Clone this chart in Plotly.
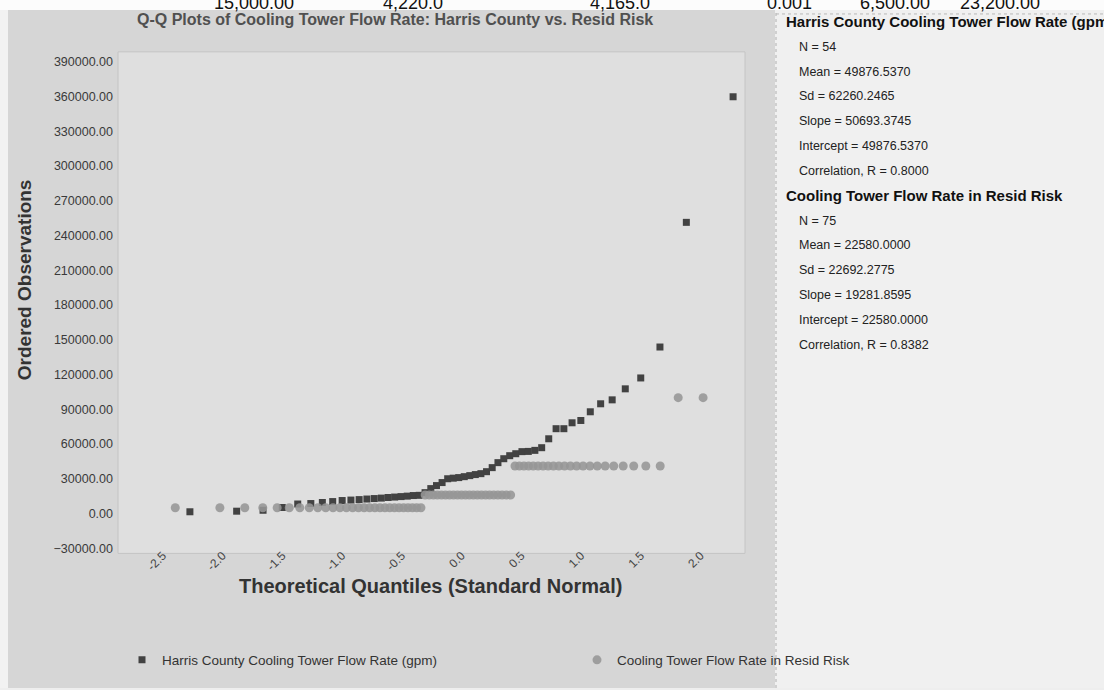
import plotly.graph_objects as go
from statistics import NormalDist

W, H = 1104, 690

# ---------------- data ----------------
harris_flow = [1500, 2000, 2800, 5200, 8200, 8600, 9500, 10300, 11200, 11600,
               12000, 12500, 12900, 13300, 13800, 14200, 14600, 15000, 15500, 15700,
               18000, 21500, 24100, 26700, 30000, 30500, 31000, 31800, 32700, 33600,
               34400, 36100, 39600, 43900, 47300, 49900, 51600, 53400, 53600, 54500,
               56800, 64500, 73200, 73200, 78300, 80300, 87800, 94700, 98100, 107600,
               117000, 143700, 251300, 359700]

resid_flow = [5000, 5000, 5000, 5000, 5000, 5000, 5000, 5000, 5000, 5000,
              5000, 5000, 5000, 5000, 5000, 5000, 5000, 5000, 5000, 5000,
              5000, 5000, 5000, 5000, 5000, 5000, 5000, 5000,
              16000, 16000, 16000, 16000, 16000, 16000, 16000, 16000, 16000, 16000,
              16000, 16000, 16000, 16000, 16000, 16000, 16000, 16000, 16000, 16000,
              16000, 16000,
              41000, 41000, 41000, 41000, 41000, 41000, 41000, 41000, 41000, 41000,
              41000, 41000, 41000, 41000, 41000, 41000, 41000, 41000, 41000, 41000,
              41000, 41000,
              100000, 100000, 100000]

x_ticks = [-2.5, -2.0, -1.5, -1.0, -0.5, 0.0, 0.5, 1.0, 1.5, 2.0]
x_tick_labels = ["-2.5", "-2.0", "-1.5", "-1.0", "-0.5", "0.0", "0.5", "1.0", "1.5", "2.0"]
y_ticks = [-30000, 0, 30000, 60000, 90000, 120000, 150000, 180000, 210000,
           240000, 270000, 300000, 330000, 360000, 390000]

series_names = ["Harris County Cooling Tower Flow Rate (gpm)",
                "Cooling Tower Flow Rate in Resid Risk"]

stats_harris = ["N = 54", "Mean = 49876.5370", "Sd = 62260.2465",
                "Slope = 50693.3745", "Intercept = 49876.5370", "Correlation, R = 0.8000"]
stats_resid = ["N = 75", "Mean = 22580.0000", "Sd = 22692.2775",
               "Slope = 19281.8595", "Intercept = 22580.0000", "Correlation, R = 0.8382"]

top_row_text = ["15,000.00", "4,220.0", "4,165.0", "0.001", "6,500.00", "23,200.00"]


def theoretical_quantiles(n):
    nd = NormalDist()
    return [nd.inv_cdf((i - 0.375) / (n + 0.25)) for i in range(1, n + 1)]


def px(x):
    return x / W


def py(y):
    return 1 - y / H


# plot area in pixels
PL, PR, PT, PB = 118, 745, 52, 555
TOP = 10  # top of the chart panels

fig = go.Figure()
fig.add_trace(go.Scatter(
    x=theoretical_quantiles(len(harris_flow)), y=harris_flow, mode="markers",
    name=series_names[0], cliponaxis=False, legend="legend",
    marker=dict(symbol="square", size=7, color="#424242", line=dict(width=0))))
fig.add_trace(go.Scatter(
    x=theoretical_quantiles(len(resid_flow)), y=resid_flow, mode="markers",
    name=series_names[1], cliponaxis=False, legend="legend2",
    marker=dict(symbol="circle", size=9, color="rgba(150,150,150,0.88)", line=dict(width=0))))

shapes = [
    dict(type="rect", xref="paper", yref="paper", x0=0, x1=1, y0=py(TOP), y1=1,
         fillcolor="#fcfcfc", line=dict(width=0), layer="below"),
    dict(type="rect", xref="paper", yref="paper", x0=0, x1=px(775), y0=0, y1=py(TOP),
         fillcolor="#d6d6d6", line=dict(width=0), layer="below"),
    dict(type="rect", xref="paper", yref="paper", x0=0, x1=px(8), y0=0, y1=py(TOP),
         fillcolor="#f2f2f2", line=dict(width=0), layer="below"),
    dict(type="rect", xref="paper", yref="paper", x0=px(775), x1=1, y0=0, y1=py(TOP),
         fillcolor="#f0f0f0", line=dict(width=0), layer="below"),
    dict(type="rect", xref="paper", yref="paper", x0=px(PL), x1=px(PR), y0=py(PB), y1=py(PT),
         fillcolor="#dfdfdf", line=dict(width=1, color="#c4c4c4"), layer="below"),
    dict(type="line", xref="paper", yref="paper", x0=px(776), x1=px(776), y0=0, y1=py(TOP),
         line=dict(width=1, color="#b0b0b0", dash="dot"), layer="below"),
    dict(type="line", xref="paper", yref="paper", x0=px(776), x1=1, y0=py(TOP + 4), y1=py(TOP + 4),
         line=dict(width=1, color="#b8b8b8", dash="dot"), layer="below"),
]

ann = []
ann.append(dict(text="<b>Q-Q Plots of Cooling Tower Flow Rate: Harris County vs. Resid Risk</b>",
                x=px(395), y=py(20), xref="paper", yref="paper", showarrow=False,
                xanchor="center", yanchor="middle",
                font=dict(family="Arial", size=16, color="#505050")))
ann.append(dict(text="<b>Ordered Observations</b>", x=px(24), y=py(281), xref="paper",
                yref="paper", showarrow=False, textangle=-90, xanchor="center",
                yanchor="middle", font=dict(family="Arial", size=19, color="#333333")))
ann.append(dict(text="<b>Theoretical Quantiles (Standard Normal)</b>", x=px(430), y=py(588),
                xref="paper", yref="paper", showarrow=False, xanchor="center",
                yanchor="middle", font=dict(family="Arial", size=20, color="#333333")))

top_x = [254, 413, 620, 789, 895, 1000]
for t, cx in zip(top_row_text, top_x):
    ann.append(dict(text=t, x=px(cx), y=py(15), xref="paper", yref="paper", showarrow=False,
                    xanchor="center", yanchor="bottom",
                    font=dict(family="Arial", size=18, color="#111111")))

line_y = 22
step = 24.9
ann.append(dict(text="<b>" + series_names[0] + "</b>", x=px(784), y=py(line_y), xref="paper",
                yref="paper", showarrow=False, xanchor="left", yanchor="middle",
                font=dict(family="Arial", size=15, color="#111111")))
for k, s in enumerate(stats_harris):
    ann.append(dict(text=s, x=px(797), y=py(line_y + step * (k + 1)), xref="paper",
                    yref="paper", showarrow=False, xanchor="left", yanchor="middle",
                    font=dict(family="Arial", size=12.5, color="#222222")))
y2 = line_y + step * 7
ann.append(dict(text="<b>" + series_names[1] + "</b>", x=px(784), y=py(y2), xref="paper",
                yref="paper", showarrow=False, xanchor="left", yanchor="middle",
                font=dict(family="Arial", size=15, color="#111111")))
for k, s in enumerate(stats_resid):
    ann.append(dict(text=s, x=px(797), y=py(y2 + step * (k + 1)), xref="paper",
                    yref="paper", showarrow=False, xanchor="left", yanchor="middle",
                    font=dict(family="Arial", size=12.5, color="#222222")))

legend_style = dict(orientation="h", yanchor="middle", xanchor="left",
                    bgcolor="rgba(0,0,0,0)", itemwidth=30,
                    font=dict(family="Arial", size=13.5, color="#333333"))

fig.update_layout(
    width=W, height=H, margin=dict(l=0, r=0, t=0, b=0),
    paper_bgcolor="#eeeeee", plot_bgcolor="rgba(0,0,0,0)",
    shapes=shapes, annotations=ann,
    font=dict(family="Arial"),
    showlegend=True,
    legend=dict(x=px(122), y=py(662), **legend_style),
    legend2=dict(x=px(577), y=py(662), **legend_style),
    xaxis=dict(domain=[px(PL), px(PR)], range=[(PL - 461.5) / 119.5, (PR - 461.5) / 119.5],
               tickvals=x_ticks, ticktext=x_tick_labels, tickangle=-45,
               showgrid=False, zeroline=False, showline=False, ticks="",
               ticklabelstandoff=-8,
               tickfont=dict(family="Arial", size=12, color="#444444")),
    yaxis=dict(domain=[py(PB), py(PT)], range=[(515 - PB) * 860.6, (515 - PT) * 860.6],
               tickvals=y_ticks, tickformat=".2f", showgrid=False, zeroline=False,
               showline=False, ticks="", ticklabelstandoff=4,
               tickfont=dict(family="Arial", size=12.5, color="#3a3a3a")),
)

fig.write_html("out.html", config={"displayModeBar": False},
               post_script="document.body.style.margin='0';document.body.style.overflow='hidden';")
